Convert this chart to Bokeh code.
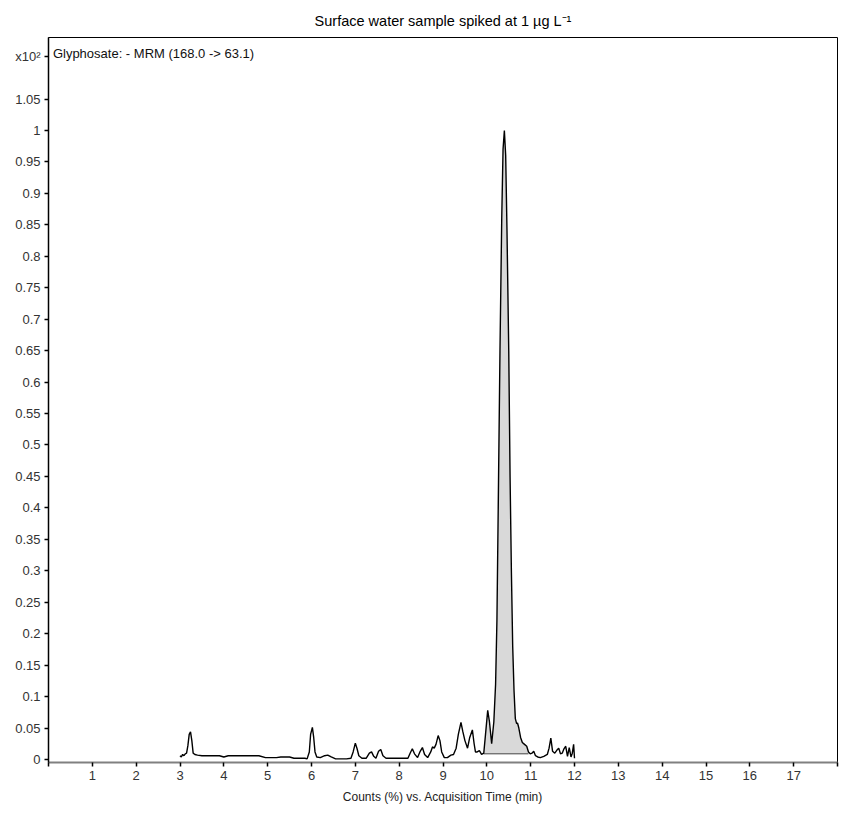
from bokeh.plotting import figure
from bokeh.models import Range1d, FixedTicker, Label
from bokeh.embed import file_html
from bokeh.resources import INLINE

# ---- data ----
time_min = [3.00, 3.03, 3.06, 3.09, 3.12, 3.15, 3.18, 3.21, 3.24, 3.27, 3.30, 3.34, 3.40, 3.50,
            3.70, 3.90, 4.00, 4.10, 4.40, 4.80, 4.95, 5.20, 5.30, 5.50, 5.60, 5.85, 5.90, 5.95,
            5.98, 6.02, 6.05, 6.08, 6.12, 6.20, 6.30, 6.37, 6.45, 6.55, 6.80, 6.90, 6.95, 7.00,
            7.04, 7.08, 7.15, 7.25, 7.32, 7.37, 7.42, 7.47, 7.53, 7.58, 7.63, 7.70, 8.00, 8.20,
            8.25, 8.30, 8.35, 8.42, 8.48, 8.53, 8.58, 8.65, 8.72, 8.76, 8.80, 8.84, 8.89, 8.93,
            8.97, 9.03, 9.10, 9.18, 9.24, 9.30, 9.35, 9.41, 9.45, 9.50, 9.56, 9.61, 9.67, 9.71,
            9.74, 9.78, 9.83, 9.88, 9.93, 9.97, 10.02, 10.06, 10.11, 10.16, 10.20, 10.23, 10.26,
            10.30, 10.34, 10.37, 10.40, 10.43, 10.46, 10.50, 10.53, 10.56, 10.59, 10.62, 10.65,
            10.68, 10.70, 10.73, 10.77, 10.81, 10.86, 10.91, 10.95, 10.99, 11.03, 11.07, 11.11,
            11.16, 11.22, 11.30, 11.38, 11.42, 11.46, 11.50, 11.55, 11.60, 11.64, 11.68, 11.72,
            11.76, 11.80, 11.84, 11.88, 11.92, 11.95, 11.98, 12.00]
counts_x100 = [0.006, 0.004, 0.008, 0.006, 0.009, 0.010, 0.022, 0.040, 0.044, 0.030, 0.010, 0.008,
               0.007, 0.006, 0.006, 0.006, 0.004, 0.006, 0.006, 0.006, 0.003, 0.003, 0.004, 0.004,
               0.002, 0.002, 0.001, 0.012, 0.040, 0.051, 0.035, 0.012, 0.004, 0.003, 0.006, 0.007,
               0.004, 0.001, 0.001, 0.002, 0.012, 0.026, 0.017, 0.006, 0.002, 0.002, 0.010, 0.012,
               0.005, 0.002, 0.013, 0.016, 0.006, 0.002, 0.002, 0.002, 0.010, 0.017, 0.009, 0.003,
               0.013, 0.019, 0.008, 0.003, 0.012, 0.020, 0.018, 0.024, 0.038, 0.030, 0.012, 0.003,
               0.003, 0.007, 0.008, 0.018, 0.040, 0.059, 0.045, 0.030, 0.018, 0.035, 0.047, 0.025,
               0.012, 0.012, 0.014, 0.008, 0.010, 0.040, 0.078, 0.060, 0.025, 0.060, 0.120, 0.220,
               0.400, 0.650, 0.860, 0.970, 1.000, 0.960, 0.840, 0.650, 0.450, 0.300, 0.180, 0.110,
               0.065, 0.057, 0.058, 0.050, 0.035, 0.027, 0.024, 0.021, 0.012, 0.009, 0.010, 0.013,
               0.006, 0.004, 0.003, 0.005, 0.008, 0.018, 0.034, 0.013, 0.010, 0.015, 0.018, 0.009,
               0.010, 0.017, 0.021, 0.005, 0.019, 0.004, 0.010, 0.024, 0.002]

# integrated peak region and its baseline
peak_start = 9.93
peak_end = 10.95
peak_baseline = 0.009

x_ticks = list(range(0, 19))
x_tick_labels = [""] + [str(i) for i in range(1, 18)] + [""]
y_ticks = [round(0.05 * i, 2) for i in range(22)] + [1.117]
y_tick_labels = ["0", "0.05", "0.1", "0.15", "0.2", "0.25", "0.3", "0.35", "0.4", "0.45", "0.5",
                 "0.55", "0.6", "0.65", "0.7", "0.75", "0.8", "0.85", "0.9", "0.95", "1", "1.05",
                 "x10\u00b2"]

title_text = "Surface water sample spiked at 1 \u00b5g L\u207b\u00b9"
trace_label = "Glyphosate: - MRM (168.0 -> 63.1)"
x_label = "Counts (%) vs. Acquisition Time (min)"

FONT = "Liberation Sans"

p = figure(width=840, height=808, x_range=Range1d(0, 18), y_range=Range1d(-0.0048, 1.1478),
           output_backend="svg", toolbar_location=None,
           min_border_left=48, min_border_right=3, min_border_top=37, min_border_bottom=46)

p.title.text = title_text
p.title.align = "center"
p.title.text_font = FONT
p.title.text_font_size = "14.5px"
p.title.text_font_style = "normal"
p.title.text_color = "#000000"
p.title.standoff = 18

p.xgrid.visible = False
p.ygrid.visible = False
p.outline_line_color = "#000000"
p.outline_line_width = 1

# shaded integrated area
sel = [i for i, t in enumerate(time_min) if peak_start <= t <= peak_end]
shade_t = [time_min[i] for i in sel]
shade_v = [counts_x100[i] for i in sel]
p.varea(x=shade_t, y1=[peak_baseline] * len(shade_t), y2=shade_v, fill_color="#d9d9d9")
p.line([shade_t[0], shade_t[-1]], [peak_baseline, peak_baseline], line_color="#444444", line_width=1)

p.line(time_min, counts_x100, line_color="#000000", line_width=1.4)

p.add_layout(Label(x=0.1, y=1.122, text=trace_label, text_font=FONT, text_font_size="13px",
                   text_baseline="middle", text_color="#111111"))

# x axis
xa = p.xaxis[0]
xa.ticker = FixedTicker(ticks=x_ticks)
xa.major_label_overrides = {t: l for t, l in zip(x_ticks, x_tick_labels)}
xa.minor_tick_line_color = None
xa.axis_line_color = "#808080"
xa.axis_line_width = 2
xa.major_tick_line_color = "#000000"
xa.major_tick_line_width = 1.5
xa.major_tick_in = 0
xa.major_tick_out = 4
xa.major_label_standoff = 4
xa.major_label_text_font = FONT
xa.major_label_text_font_size = "13px"
xa.major_label_text_color = "#333333"
xa.axis_label = x_label
xa.axis_label_text_font = FONT
xa.axis_label_text_font_size = "12px"
xa.axis_label_text_font_style = "normal"
xa.axis_label_text_color = "#222222"
xa.axis_label_standoff = 7

# y axis
ya = p.yaxis[0]
ya.ticker = FixedTicker(ticks=y_ticks)
ya.major_label_overrides = {t: l for t, l in zip(y_ticks, y_tick_labels)}
ya.minor_tick_line_color = None
ya.axis_line_color = "#000000"
ya.axis_line_width = 1.5
ya.major_tick_line_color = "#000000"
ya.major_tick_line_width = 1.5
ya.major_tick_in = 0
ya.major_tick_out = 4
ya.major_label_standoff = 4
ya.major_label_text_font = FONT
ya.major_label_text_font_size = "13px"
ya.major_label_text_color = "#333333"

open("out.html", "w").write(file_html(p, INLINE))
